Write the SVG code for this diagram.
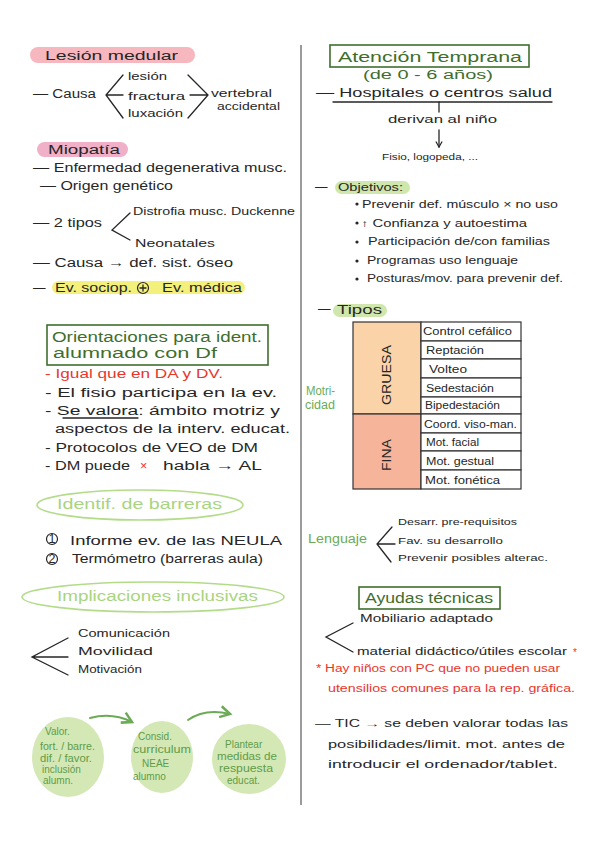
<svg xmlns="http://www.w3.org/2000/svg" width="600" height="848" viewBox="0 0 600 848">
<style>
text{font-family:"Liberation Sans","DejaVu Sans",sans-serif;fill:#262626;font-size:12.5px}
.sm{font-size:10px}
.xs{font-size:9px}
.ttl{font-size:14px;fill:#3f6e2c}
.dg{fill:#3f6e2c}
.red{fill:#e8362b}
.lg{fill:#a9d47f;font-size:14px}
.cg{fill:#5f9c48;font-size:10px}
.mg{fill:#6cab55}
.ln{stroke:#262626;stroke-width:1.3;fill:none;stroke-linecap:round}
.box{fill:none;stroke:#3f6e2c;stroke-width:1.6}
.ell{fill:none;stroke:#b3dc8a;stroke-width:1.6}
.blob{fill:#d4e8b6}
.arr{stroke:#6cab55;stroke-width:2;fill:none;stroke-linecap:round}
.cell{fill:#fff;stroke:#333;stroke-width:1.2}
</style>
<defs>
<marker id="ah" viewBox="0 0 10 10" refX="8" refY="5" markerWidth="7" markerHeight="7" orient="auto"><path d="M1,1 L8,5 L1,9" fill="none" stroke="#6cab55" stroke-width="1.8"/></marker>
<marker id="ahk" viewBox="0 0 10 10" refX="8" refY="5" markerWidth="6" markerHeight="6" orient="auto"><path d="M1,1 L8,5 L1,9" fill="none" stroke="#262626" stroke-width="1.6"/></marker>
</defs>
<rect width="600" height="848" fill="#fff"/>
<line x1="301" y1="45" x2="301" y2="805" stroke="#7a7a7a" stroke-width="1.5"/>

<g id="lesion">
<rect x="30" y="47" width="165" height="16" rx="8" fill="#f6b7bf"/>
<text x="45" y="60" font-size="14" textLength="133" lengthAdjust="spacingAndGlyphs">Lesión medular</text>
<text x="33" y="98" textLength="63" lengthAdjust="spacingAndGlyphs">— Causa</text>
<text x="128" y="80" class="sm" textLength="39" lengthAdjust="spacingAndGlyphs">lesión</text>
<text x="128" y="100" class="sm" textLength="57" lengthAdjust="spacingAndGlyphs">fractura</text>
<text x="128" y="117" class="sm" textLength="55" lengthAdjust="spacingAndGlyphs">luxación</text>
<text x="211" y="97" class="sm" textLength="61" lengthAdjust="spacingAndGlyphs">vertebral</text>
<text x="217" y="110" class="sm" textLength="63" lengthAdjust="spacingAndGlyphs">accidental</text>
</g>

<g id="miopatia">
<rect x="37" y="142" width="91" height="15" rx="7.5" fill="#efb0c8"/>
<text x="48" y="154" font-size="13" textLength="72" lengthAdjust="spacingAndGlyphs">Miopatía</text>
<text x="33" y="172" textLength="254" lengthAdjust="spacingAndGlyphs">— Enfermedad degenerativa musc.</text>
<text x="40" y="190" textLength="133" lengthAdjust="spacingAndGlyphs">— Origen genético</text>
<text x="33" y="227" textLength="69" lengthAdjust="spacingAndGlyphs">— 2 tipos</text>
<text x="133" y="215" class="sm" font-size="11" textLength="162" lengthAdjust="spacingAndGlyphs">Distrofia musc. Duckenne</text>
<text x="135" y="247" class="sm" font-size="11" textLength="80" lengthAdjust="spacingAndGlyphs">Neonatales</text>
<text x="33" y="267" textLength="200" lengthAdjust="spacingAndGlyphs">— Causa → def. sist. óseo</text>
<rect x="52" y="281" width="193" height="13" rx="6.5" fill="#f4f07c"/>
<text x="33" y="292">—</text>
<text x="55" y="292" textLength="77" lengthAdjust="spacingAndGlyphs">Ev. sociop.</text>
<circle cx="143" cy="288" r="5.5" fill="none" stroke="#262626" stroke-width="1.2"/>
<path d="M140,288 H146 M143,285 V291" class="ln" stroke-width="1.1"/>
<text x="162" y="292" textLength="80" lengthAdjust="spacingAndGlyphs">Ev. médica</text>
</g>

<g id="orientaciones">
<rect x="47" y="325" width="221" height="40" class="box"/>
<text x="52" y="342" class="ttl" textLength="210" lengthAdjust="spacingAndGlyphs">Orientaciones para ident.</text>
<text x="53" y="358" class="ttl" textLength="164" lengthAdjust="spacingAndGlyphs">alumnado con Df</text>
<text x="45" y="378" class="red" textLength="178" lengthAdjust="spacingAndGlyphs">- Igual que en DA y DV.</text>
<text x="45" y="397" textLength="232" lengthAdjust="spacingAndGlyphs">- El fisio participa en la ev.</text>
<text x="45" y="415" textLength="235" lengthAdjust="spacingAndGlyphs">- Se valora: ámbito motriz y</text>
<line x1="63" y1="418" x2="138" y2="418" class="ln"/>
<text x="55" y="433" textLength="235" lengthAdjust="spacingAndGlyphs">aspectos de la interv. educat.</text>
<text x="45" y="452" textLength="213" lengthAdjust="spacingAndGlyphs">- Protocolos de VEO de DM</text>
<text x="45" y="470" textLength="85" lengthAdjust="spacingAndGlyphs">- DM puede</text>
<text x="140" y="470" class="red" font-size="15">×</text>
<text x="163" y="470" textLength="99" lengthAdjust="spacingAndGlyphs">habla → AL</text>
</g>

<g id="barreras">
<ellipse cx="140" cy="505" rx="103" ry="15" class="ell"/>
<text x="57" y="509" class="lg" textLength="165" lengthAdjust="spacingAndGlyphs">Identif. de barreras</text>
<circle cx="52" cy="539" r="5.5" fill="none" stroke="#262626" stroke-width="1.2"/>
<text x="52" y="542.5" font-size="9" text-anchor="middle">1</text>
<text x="70" y="545" textLength="212" lengthAdjust="spacingAndGlyphs">Informe ev. de las NEULA</text>
<circle cx="52" cy="559" r="5.5" fill="none" stroke="#262626" stroke-width="1.2"/>
<text x="52" y="562.5" font-size="9" text-anchor="middle">2</text>
<text x="72" y="563" textLength="191" lengthAdjust="spacingAndGlyphs">Termómetro (barreras aula)</text>
</g>

<g id="implicaciones">
<ellipse cx="153" cy="597" rx="131" ry="15" class="ell"/>
<text x="57" y="601" class="lg" textLength="201" lengthAdjust="spacingAndGlyphs">Implicaciones inclusivas</text>
<text x="78" y="637" class="sm" font-size="11" textLength="92" lengthAdjust="spacingAndGlyphs">Comunicación</text>
<text x="78" y="655" class="sm" font-size="11" textLength="75" lengthAdjust="spacingAndGlyphs">Movilidad</text>
<text x="78" y="673" class="sm" font-size="11" textLength="64" lengthAdjust="spacingAndGlyphs">Motivación</text>
</g>

<g id="valor">
<ellipse cx="68" cy="757" rx="36" ry="40" class="blob"/>
<text x="45" y="735" class="cg">Valor.</text>
<text x="40" y="750" class="cg" textLength="55" lengthAdjust="spacingAndGlyphs">fort. / barre.</text>
<text x="40" y="762" class="cg" textLength="52" lengthAdjust="spacingAndGlyphs">dif. / favor.</text>
<text x="42" y="773" class="cg">inclusión</text>
<text x="43" y="784" class="cg">alumn.</text>
</g>
<g id="considerar">
<ellipse cx="162" cy="757" rx="31" ry="36" class="blob"/>
<text x="138" y="740" class="cg">Consid.</text>
<text x="133" y="753" class="cg" textLength="58" lengthAdjust="spacingAndGlyphs">curriculum</text>
<text x="142" y="767" class="cg" font-size="9">NEAE</text>
<text x="133" y="780" class="cg">alumno</text>
</g>
<g id="plantear">
<ellipse cx="249" cy="759" rx="37" ry="35" class="blob"/>
<text x="225" y="748" class="cg" font-size="11">Plantear</text>
<text x="217" y="760" class="cg" textLength="60" lengthAdjust="spacingAndGlyphs">medidas de</text>
<text x="219" y="772" class="cg" textLength="54" lengthAdjust="spacingAndGlyphs">respuesta</text>
<text x="227" y="784" class="cg">educat.</text>
</g>

<g id="atencion">
<rect x="330" y="45" width="199" height="22" class="box"/>
<text x="338" y="62" class="ttl" font-size="15" textLength="184" lengthAdjust="spacingAndGlyphs">Atención Temprana</text>
<text x="363" y="79" class="dg" font-size="12" textLength="130" lengthAdjust="spacingAndGlyphs">(de 0 - 6 años)</text>
<text x="316" y="97" textLength="236" lengthAdjust="spacingAndGlyphs">— Hospitales o centros salud</text>
<text x="388" y="123" class="sm" font-size="11" textLength="109" lengthAdjust="spacingAndGlyphs">derivan al niño</text>
<text x="382" y="160" class="xs" textLength="96" lengthAdjust="spacingAndGlyphs">Fisio, logopeda, ...</text>
</g>

<g id="objetivos">
<rect x="335" y="181" width="75" height="13" rx="6.5" fill="#cfe7ac"/>
<text x="315" y="191">—</text>
<text x="338" y="191" class="sm" font-size="12" textLength="65" lengthAdjust="spacingAndGlyphs">Objetivos:</text>
<circle cx="357" cy="204" r="1.6" fill="#262626"/>
<text x="362" y="208" class="sm" textLength="196" lengthAdjust="spacingAndGlyphs">Prevenir def. músculo × no uso</text>
<circle cx="357" cy="223" r="1.6" fill="#262626"/>
<text x="361" y="227" class="sm" textLength="166" lengthAdjust="spacingAndGlyphs">↑ Confianza y autoestima</text>
<circle cx="357" cy="242" r="1.6" fill="#262626"/>
<text x="368" y="245" class="sm" textLength="182" lengthAdjust="spacingAndGlyphs">Participación de/con familias</text>
<circle cx="357" cy="261" r="1.6" fill="#262626"/>
<text x="367" y="264" class="sm" textLength="151" lengthAdjust="spacingAndGlyphs">Programas uso lenguaje</text>
<circle cx="357" cy="279" r="1.6" fill="#262626"/>
<text x="367" y="282" class="sm" textLength="196" lengthAdjust="spacingAndGlyphs">Posturas/mov. para prevenir def.</text>
</g>

<g id="tipos">
<rect x="333" y="304" width="54" height="13" rx="6.5" fill="#cfe7ac"/>
<text x="318" y="313">—</text>
<text x="337" y="314" textLength="45" lengthAdjust="spacingAndGlyphs">Tipos</text>
<text x="306" y="395" class="mg" font-size="9" textLength="29" lengthAdjust="spacingAndGlyphs">Motri-</text>
<text x="305" y="409" class="mg" font-size="9" textLength="30" lengthAdjust="spacingAndGlyphs">cidad</text>
</g>

<g id="tabla">
<rect x="353" y="322" width="68" height="92" fill="#fbd3a9" stroke="#333" stroke-width="1.2"/>
<rect x="353" y="414" width="68" height="75" fill="#f6b49b" stroke="#333" stroke-width="1.2"/>
<text transform="translate(391,375) rotate(-90)" text-anchor="middle" font-size="13" textLength="60" lengthAdjust="spacingAndGlyphs">GRUESA</text>
<text transform="translate(391,455) rotate(-90)" text-anchor="middle" font-size="13" textLength="32" lengthAdjust="spacingAndGlyphs">FINA</text>
<rect x="421" y="322" width="100" height="19" class="cell"/>
<rect x="421" y="341" width="100" height="18" class="cell"/>
<rect x="421" y="359" width="100" height="19" class="cell"/>
<rect x="421" y="378" width="100" height="19" class="cell"/>
<rect x="421" y="397" width="100" height="17" class="cell"/>
<rect x="421" y="414" width="100" height="19" class="cell"/>
<rect x="421" y="433" width="100" height="18" class="cell"/>
<rect x="421" y="451" width="100" height="19" class="cell"/>
<rect x="421" y="470" width="100" height="19" class="cell"/>
<text x="423" y="335" class="sm" textLength="89" lengthAdjust="spacingAndGlyphs">Control cefálico</text>
<text x="426" y="354" class="sm" textLength="58" lengthAdjust="spacingAndGlyphs">Reptación</text>
<text x="429" y="373" class="sm" textLength="38" lengthAdjust="spacingAndGlyphs">Volteo</text>
<text x="426" y="392" class="sm" textLength="68" lengthAdjust="spacingAndGlyphs">Sedestación</text>
<text x="425" y="409" class="sm" textLength="75" lengthAdjust="spacingAndGlyphs">Bipedestación</text>
<text x="424" y="428" class="sm" textLength="93" lengthAdjust="spacingAndGlyphs">Coord. viso-man.</text>
<text x="426" y="446" class="sm" textLength="53" lengthAdjust="spacingAndGlyphs">Mot. facial</text>
<text x="426" y="465" class="sm" textLength="68" lengthAdjust="spacingAndGlyphs">Mot. gestual</text>
<text x="425" y="484" class="sm" textLength="75" lengthAdjust="spacingAndGlyphs">Mot. fonética</text>
</g>

<g id="lenguaje">
<text x="308" y="543" class="mg" font-size="12" textLength="59" lengthAdjust="spacingAndGlyphs">Lenguaje</text>
<text x="398" y="525" class="xs" textLength="119" lengthAdjust="spacingAndGlyphs">Desarr. pre-requisitos</text>
<text x="398" y="544" class="xs" textLength="105" lengthAdjust="spacingAndGlyphs">Fav. su desarrollo</text>
<text x="398" y="561" class="xs" textLength="150" lengthAdjust="spacingAndGlyphs">Prevenir posibles alterac.</text>
</g>

<g id="ayudas">
<rect x="359" y="587" width="141" height="22" class="box"/>
<text x="365" y="603" class="ttl" textLength="128" lengthAdjust="spacingAndGlyphs">Ayudas técnicas</text>
<text x="360" y="622" class="sm" textLength="133" lengthAdjust="spacingAndGlyphs">Mobiliario adaptado</text>
<text x="357" y="655" class="sm" textLength="210" lengthAdjust="spacingAndGlyphs">material didáctico/útiles escolar</text>
<text x="573" y="656" class="red sm" font-size="12">*</text>
<text x="316" y="672" class="red sm" textLength="244" lengthAdjust="spacingAndGlyphs">* Hay niños con PC que no pueden usar</text>
<text x="328" y="692" class="red sm" textLength="247" lengthAdjust="spacingAndGlyphs">utensilios comunes para la rep. gráfica.</text>
</g>

<g id="tic">
<text x="315" y="727" class="sm" textLength="253" lengthAdjust="spacingAndGlyphs">— TIC → se deben valorar todas las</text>
<text x="328" y="748" class="sm" textLength="237" lengthAdjust="spacingAndGlyphs">posibilidades/limit. mot. antes de</text>
<text x="328" y="768" class="sm" textLength="230" lengthAdjust="spacingAndGlyphs">introducir el ordenador/tablet.</text>
</g>

<g id="connectors">
<path d="M123,75 L106,95 L123,118 M106,95 L123,95" class="ln"/>
<path d="M188,75 L208,95 L188,118 M190,95 L208,95" class="ln"/>
<path d="M130,213 L112,230 L130,240" class="ln"/>
<path d="M68,638 L32,657 L68,675 M32,657 L68,657" class="ln"/>
<path d="M90,718 Q112,712 132,722" class="arr" marker-end="url(#ah)"/>
<path d="M188,720 Q205,708 230,714" class="arr" marker-end="url(#ah)"/>
<path d="M333,102 L552,102" class="ln"/>
<path d="M439,102 L439,112" class="ln"/>
<path d="M439,130 L439,147" class="ln" marker-end="url(#ahk)"/>
<path d="M392,527 L377,544 L391,562 M377,544 L395,544" class="ln"/>
<path d="M353,623 L326,637 L353,652" class="ln"/>
</g>
</svg>
